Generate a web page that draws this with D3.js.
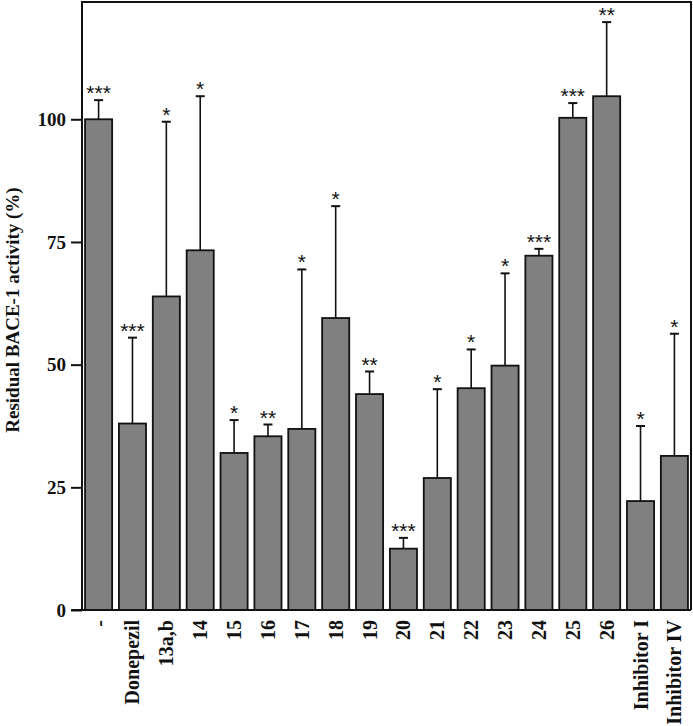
<!DOCTYPE html>
<html>
<head>
<meta charset="utf-8">
<script src="https://cdn.jsdelivr.net/npm/d3@7"></script>
<style>
  html, body { margin: 0; padding: 0; background: #fff; }
  svg { display: block; }
</style>
</head>
<body>
<svg id="chart" width="693" height="726"></svg>
<script>
const categories = ["-", "Donepezil", "13a,b", "14", "15", "16", "17", "18", "19", "20", "21", "22", "23", "24", "25", "26", "Inhibitor I", "Inhibitor IV"];
const values = [100, 38.0, 63.9, 73.3, 32.0, 35.4, 36.9, 59.5, 44.0, 12.5, 26.9, 45.2, 49.8, 72.2, 100.3, 104.7, 22.2, 31.4];
const errors = [3.9, 17.5, 35.6, 31.4, 6.7, 2.4, 32.5, 22.8, 4.6, 2.2, 18.1, 7.9, 18.8, 1.4, 3.0, 15.1, 15.3, 24.9];
const significance = ["***", "***", "*", "*", "*", "**", "*", "*", "**", "***", "*", "*", "*", "***", "***", "**", "*", "*"];
const yTicks = [0, 25, 50, 75, 100];
const yLabel = "Residual BACE-1 activity (%)";

const svg = d3.select("#chart");
const mLeft = 82, mRight = 691, mTop = 2, mBottom = 610;

const x = d3.scaleBand().domain(categories).range([mLeft, mRight]).paddingInner(0.2).paddingOuter(0.09);
const y = d3.scaleLinear().domain([0, 123.9]).range([mBottom, mTop]);

const serif = "'Liberation Serif', 'Times New Roman', serif";

// bars
svg.append("g").selectAll("rect").data(categories).join("rect")
  .attr("x", d => x(d))
  .attr("width", x.bandwidth())
  .attr("y", (d, i) => y(values[i]))
  .attr("height", (d, i) => y(0) - y(values[i]))
  .attr("fill", "#808080")
  .attr("stroke", "#111")
  .attr("stroke-width", 1.8);

// error bars (upper only)
const eg = svg.append("g").attr("stroke", "#111");
categories.forEach((c, i) => {
  const cx = x(c) + x.bandwidth() / 2;
  const yt = y(values[i] + errors[i]);
  eg.append("line").attr("x1", cx).attr("x2", cx).attr("y1", y(values[i])).attr("y2", yt).attr("stroke-width", 1.6);
  eg.append("line").attr("x1", cx - 4.5).attr("x2", cx + 4.5).attr("y1", yt).attr("y2", yt).attr("stroke-width", 2);
});

// significance stars
svg.append("g").selectAll("text").data(categories).join("text")
  .attr("x", d => x(d) + x.bandwidth() / 2)
  .attr("y", (d, i) => y(values[i] + errors[i]))
  .attr("text-anchor", "middle")
  .attr("font-family", "'Liberation Sans', Arial, sans-serif")
  .attr("font-size", 21)
  .attr("fill", "#111")
  .text((d, i) => significance[i]);

// frame
svg.append("path")
  .attr("d", `M${mLeft},${mBottom}V${mTop}H${mRight}V${mBottom}`)
  .attr("fill", "none").attr("stroke", "#111").attr("stroke-width", 2);

// y axis
const yAxis = svg.append("g").attr("transform", `translate(${mLeft},0)`)
  .call(d3.axisLeft(y).tickValues(yTicks).tickSize(11).tickPadding(5).tickFormat(d3.format("d")));
yAxis.select(".domain").remove();
yAxis.selectAll("line").attr("stroke", "#111").attr("stroke-width", 2);
yAxis.selectAll("text").attr("font-family", serif).attr("font-weight", "bold").attr("font-size", 19).attr("fill", "#111");

// x axis baseline
svg.append("line").attr("x1", 71).attr("x2", mRight).attr("y1", mBottom).attr("y2", mBottom)
  .attr("stroke", "#111").attr("stroke-width", 2);

// x labels (rotated)
svg.append("g").selectAll("text").data(categories).join("text")
  .attr("transform", d => `translate(${x(d) + x.bandwidth() / 2},${mBottom + 10}) rotate(-90)`)
  .attr("text-anchor", "end")
  .attr("dy", "0.35em")
  .attr("font-family", serif).attr("font-weight", "bold").attr("font-size", 20).attr("fill", "#111")
  .text(d => d);

// y label
svg.append("text")
  .attr("transform", `translate(19,310) rotate(-90)`)
  .attr("text-anchor", "middle")
  .attr("font-family", serif).attr("font-weight", "bold").attr("font-size", 19).attr("fill", "#111")
  .text(yLabel);
</script>
</body>
</html>
